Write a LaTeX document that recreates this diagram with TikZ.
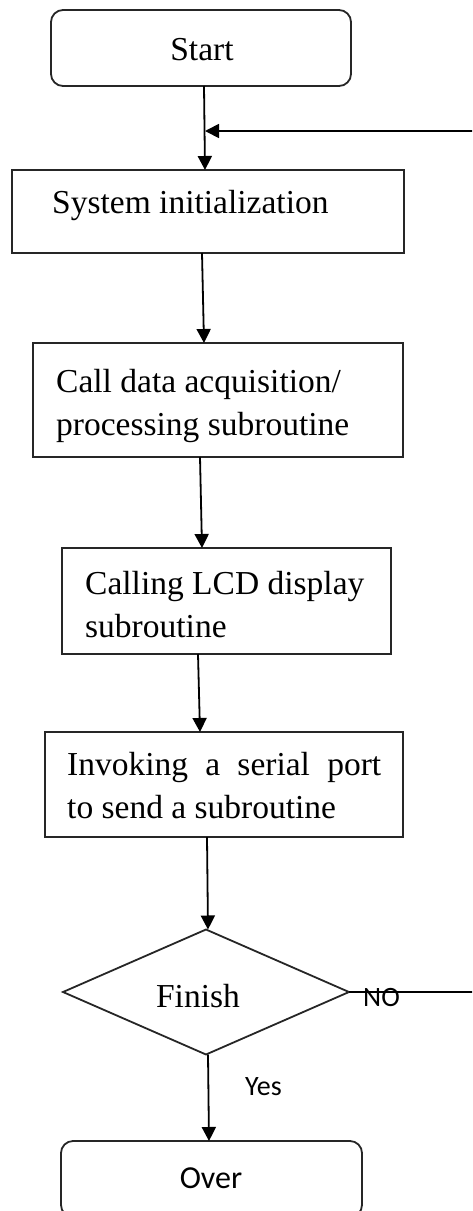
\documentclass[tikz,border=0pt]{standalone}
\usepackage{fontspec}
\setmainfont{Liberation Serif}
\newfontfamily\sansf{Carlito}
\usetikzlibrary{arrows.meta,shapes.geometric}
\begin{document}
\begin{tikzpicture}[x=1pt,y=-1pt,
  boxline/.style={draw=black!85,line width=1.8pt,inner sep=0pt,outer sep=0pt},
  procbox/.style={boxline,rectangle},
  termbox/.style={boxline,rectangle,rounded corners=12pt},
  decbox/.style={boxline,diamond},
  txt/.style={inner sep=0pt,anchor=base west,font=\fontsize{33.5}{42.5}\selectfont,align=left},
  stxt/.style={inner sep=0pt,anchor=base west,font=\sansf\fontsize{28}{32}\selectfont},
  arr/.style={line width=1.8pt,-{Triangle[width=14pt,length=14pt]}},
  conn/.style={line width=1.8pt}]
\useasboundingbox (0,0) rectangle (472,1211);
\clip (0,0) rectangle (472,1211);
% boxes
\node[termbox,minimum width=300pt,minimum height=76pt] (start) at (201,48) {};
\node[procbox,minimum width=392pt,minimum height=83pt] (init) at (208,211.5) {};
\node[procbox,minimum width=370pt,minimum height=114pt] (acq) at (218,400) {};
\node[procbox,minimum width=329pt,minimum height=106pt] (lcd) at (226.5,601) {};
\node[procbox,minimum width=358pt,minimum height=105pt] (ser) at (224,784.5) {};
\node[decbox,minimum width=286pt,minimum height=125pt] (dec) at (206,992) {};
\node[termbox,minimum width=301pt,minimum height=76pt] (over) at (211.5,1179) {};
% texts
\node[inner sep=0pt,anchor=base,font=\fontsize{33.5}{42}\selectfont] (tstart) at (202,60) {Start};
\node[txt] (tinit) at (52,213) {System initialization};
\node[txt] (tacq) at (56,435) {Call data acquisition/\\processing subroutine};
\node[txt] (tlcd) at (85,637) {Calling LCD display\\subroutine};
\node[txt] (tser) at (67,818) {\makebox[314pt][s]{Invoking a serial port}\\to send a subroutine};
\node[inner sep=0pt,anchor=base,font=\fontsize{33.5}{42}\selectfont] (tdec) at (198,1007) {Finish};
\node[stxt] (tno) at (363,1006) {NO};
\node[stxt] (tyes) at (245,1095) {Yes};
\node[inner sep=0pt,anchor=base,font=\sansf\fontsize{32}{38}\selectfont] (tover) at (211,1188) {Over};
% connectors
\coordinate (jn) at (205,131);
\draw[arr] ([xshift=3pt]start.south) -- ([xshift=-3pt]init.north);
\draw[arr] ([xshift=-6pt]init.south) -- ([xshift=-14pt]acq.north);
\draw[arr] ([xshift=-18pt]acq.south) -- ([xshift=-24.5pt]lcd.north);
\draw[arr] ([xshift=-28.5pt]lcd.south) -- ([xshift=-24pt]ser.north);
\draw[arr] ([xshift=-17pt]ser.south) -- ([xshift=2pt]dec.north);
\draw[arr] ([xshift=2pt]dec.south) -- ([xshift=-2.5pt]over.north);
\draw[arr] (dec.east) -- (490,992) |- (jn);
\end{tikzpicture}
\end{document}
